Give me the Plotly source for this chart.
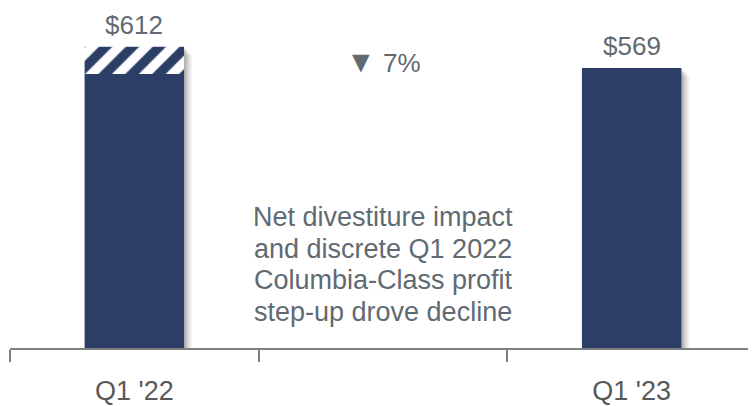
import plotly.graph_objects as go

# data
categories = ["Q1 '22", " ", "Q1 '23"]
base_values = [557, None, 569]       # solid portion
hatch_values = [55, None, 0]         # hatched (divested) portion
totals = [612, None, 569]
total_labels = ["$612", "", "$569"]
change_label = "<span style='font-size:30px'>\u25bc</span> 7%"
note_lines = [
    "Net divestiture impact",
    "and discrete Q1 2022",
    "Columbia-Class profit",
    "step-up drove decline",
]

NAVY = "#2c3e66"
TEXT_GREY = "#5f6a72"
AXIS_GREY = "#808080"
FONT = "Arial, Liberation Sans, sans-serif"

BAR_W = 0.4
PX = 1 / 248.7  # one pixel in category units

fig = go.Figure()

# soft drop shadow on the right of each bar
for k, alpha in [(8, 0.05), (6, 0.07), (4, 0.09), (2, 0.12)]:
    fig.add_trace(go.Bar(
        x=categories,
        y=[t - 2 * k if t else None for t in totals],
        width=BAR_W,
        offset=-BAR_W / 2 + k * PX,
        marker=dict(color=f"rgba(0,0,0,{alpha})", line_width=0),
        hoverinfo="skip",
        showlegend=False,
    ))

fig.add_trace(go.Bar(
    x=categories,
    y=base_values,
    width=BAR_W,
    offset=-BAR_W / 2,
    marker=dict(color=NAVY, line_width=0),
    showlegend=False,
))

fig.add_trace(go.Bar(
    x=categories,
    y=hatch_values,
    base=base_values,
    width=BAR_W,
    offset=-BAR_W / 2,
    marker=dict(
        color="white",
        line_width=0,
        pattern=dict(shape="/", fgcolor=NAVY, bgcolor="white",
                     fgopacity=1, size=19, solidity=0.5),
    ),
    showlegend=False,
))

# value labels above bars
for cat, tot, lab in zip(categories, totals, total_labels):
    if tot:
        fig.add_annotation(
            x=cat, y=tot, text=lab, showarrow=False,
            yanchor="bottom", yshift=6, borderpad=0,
            font=dict(family=FONT, size=26, color=TEXT_GREY),
        )

fig.add_annotation(
    x=categories[1], y=583, text=change_label, showarrow=False,
    yanchor="middle",
    font=dict(family=FONT, size=26, color=TEXT_GREY),
)

for i, line in enumerate(note_lines):
    fig.add_annotation(
        x=categories[1], y=266, text=line, showarrow=False,
        yanchor="middle", yshift=-31.5 * i,
        font=dict(family=FONT, size=27, color=TEXT_GREY),
    )

# page body adds an 8px margin, so the figure is 8px smaller and offset
fig.update_layout(
    width=748,
    height=398,
    barmode="overlay",
    margin=dict(l=2, r=0, t=0, b=53),
    paper_bgcolor="white",
    plot_bgcolor="white",
    xaxis=dict(
        type="category",
        categoryorder="array",
        categoryarray=categories,
        range=[-0.5, 2.5],
        tickson="boundaries",
        ticks="outside",
        ticklen=12,
        tickwidth=1.5,
        tickcolor=AXIS_GREY,
        showline=True,
        linecolor=AXIS_GREY,
        linewidth=1.5,
        showgrid=False,
        tickfont=dict(family=FONT, size=27, color="#595959"),
        ticklabelstandoff=18,
    ),
    yaxis=dict(range=[0, 691], visible=False, showgrid=False, zeroline=False),
)

fig.write_html("out.html")
